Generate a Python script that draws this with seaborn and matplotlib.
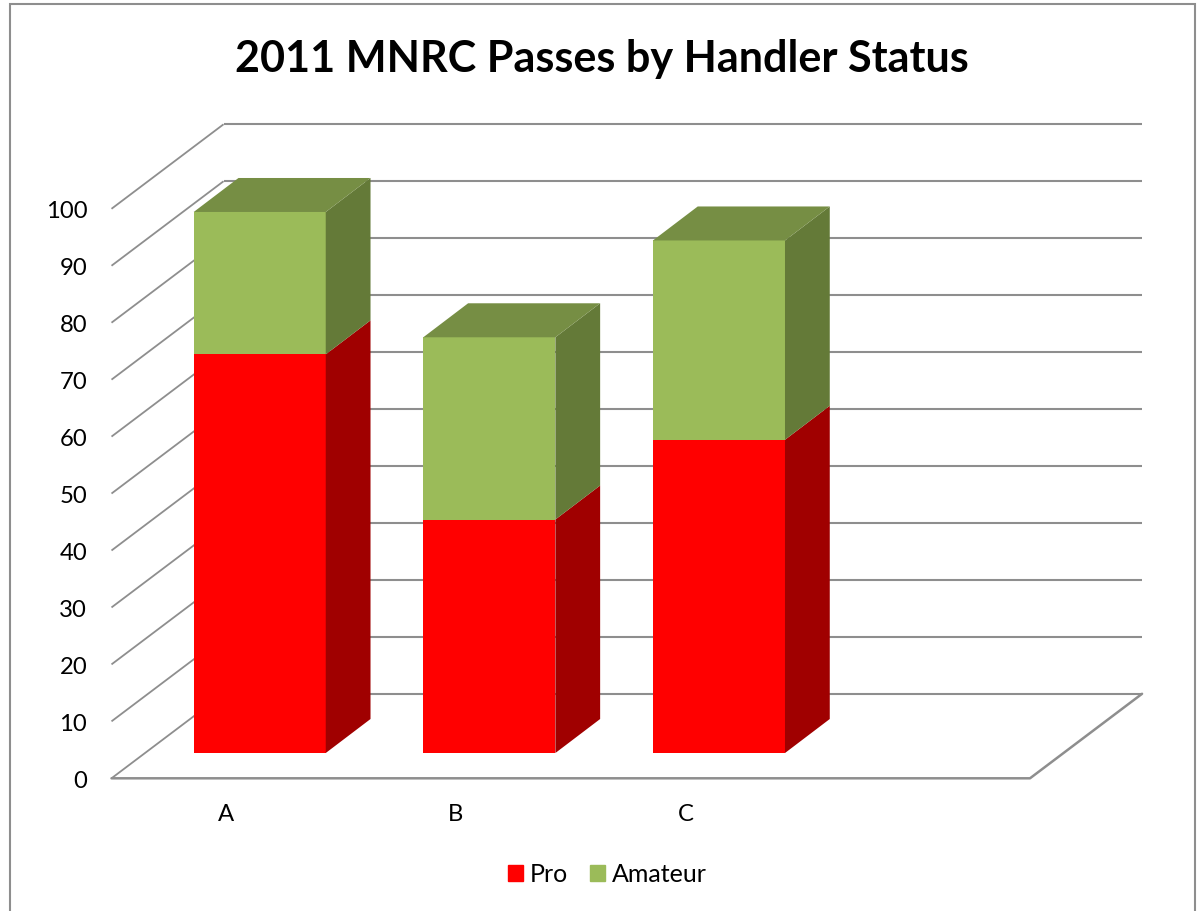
import pandas as pd
import seaborn as sns
import matplotlib.pyplot as plt
from matplotlib.patches import Patch, Polygon, Rectangle
import numpy as np

# Values
groups = ['A', 'B', 'C']
pro = [70, 41, 55]
amateur = [25, 32, 35]
y_ticks = list(range(0, 101, 10))

RED, RED_SIDE = '#FF0000', '#A00000'
GREEN, GREEN_SIDE, GREEN_TOP = '#9BBB59', '#647A38', '#768E44'
GRID = '#8E8E8E'

# Oblique offsets, in data units (categories, value units)
WALL = (0.488, 14.84)
BAR_FRONT = (0.1455, 4.44)
BAR_DEPTH = (0.195, 5.97)

sns.set_theme(style='white')
plt.rcParams['font.family'] = ['Lato', 'DejaVu Sans']

W, H = 1199, 912
fig = plt.figure(figsize=(W / 100, H / 100), dpi=100, facecolor='white')
ax = fig.add_axes([111.5 / W, (H - 779.3) / H, 918.5 / W, 569.5 / H])
ax.patch.set_visible(False)

df = pd.DataFrame({'group': groups, 'Pro': pro, 'Amateur': amateur})

sns.barplot(data=df, x='group', y='Pro', color=RED, saturation=1, width=0.575,
            errorbar=None, linewidth=0, zorder=3, ax=ax)
n_pro = len(ax.patches)
sns.barplot(data=df, x='group', y='Amateur', bottom=df['Pro'], color=GREEN, saturation=1,
            width=0.575, errorbar=None, linewidth=0, zorder=3, ax=ax)
ax.set_xlim(-0.5, 3.5)
ax.set_ylim(0, 100)

# Walls and floor
for v in y_ticks:
    ax.plot([-0.5, -0.5 + WALL[0]], [v, v + WALL[1]], color=GRID, lw=1.3, clip_on=False, zorder=1,
            solid_capstyle='butt')
    ax.plot([-0.5 + WALL[0], 3.5 + WALL[0]], [v + WALL[1], v + WALL[1]], color=GRID, lw=1.5,
            clip_on=False, zorder=1, solid_capstyle='butt')
ax.plot([-0.5, 3.5, 3.5 + WALL[0]], [0, 0, WALL[1]], color=GRID, lw=1.8, clip_on=False, zorder=1)

# Push the bars back from the front plane and give them depth
for i, bar in enumerate(list(ax.patches)):
    bar.set_x(bar.get_x() + BAR_FRONT[0])
    bar.set_y(bar.get_y() + BAR_FRONT[1])
    bar.set_clip_on(False)
    x1 = bar.get_x() + bar.get_width()
    y0 = bar.get_y()
    y1 = y0 + bar.get_height()
    dx, dy = BAR_DEPTH
    side = RED_SIDE if i < n_pro else GREEN_SIDE
    ax.add_patch(Polygon([(x1, y0), (x1 + dx, y0 + dy), (x1 + dx, y1 + dy), (x1, y1)],
                         facecolor=side, edgecolor='none', clip_on=False, zorder=3))
    if i >= n_pro:
        x0 = bar.get_x()
        ax.add_patch(Polygon([(x0, y1), (x0 + dx, y1 + dy), (x1 + dx, y1 + dy), (x1, y1)],
                             facecolor=GREEN_TOP, edgecolor='none', clip_on=False, zorder=3))

ax.set_xticks(range(len(groups)))
ax.set_xticklabels(groups)
ax.set_yticks(y_ticks)
ax.set_xlabel('')
ax.set_ylabel('')
ax.tick_params(axis='y', length=0, pad=17.5, labelsize=17.2, labelcolor='black')
ax.tick_params(axis='x', length=0, pad=18, labelsize=17.2, labelcolor='black')
sns.despine(ax=ax, left=True, bottom=True)

fig.text(602 / W, 1 - 59 / H, '2011 MNRC Passes by Handler Status', ha='center', va='center',
         fontsize=31.1, fontweight='bold', color='black')

handles = [Patch(color=RED, label='Pro'), Patch(color=GREEN, label='Amateur')]
fig.legend(handles=handles, loc='center', bbox_to_anchor=(607.5 / W, 1 - 875 / H), ncols=2,
           frameon=False, fontsize=18, handlelength=0.6, handleheight=0.6, handletextpad=0.25,
           columnspacing=0.9, labelcolor='black')

# Chart frame, running off the bottom edge
fig.add_artist(Rectangle((10 / W, -0.01), 1184.5 / W, 1.01 - 4.7 / H, transform=fig.transFigure,
                         facecolor='none', edgecolor=GRID, lw=1.5))

plt.savefig('out.png', dpi=100, facecolor='white')
